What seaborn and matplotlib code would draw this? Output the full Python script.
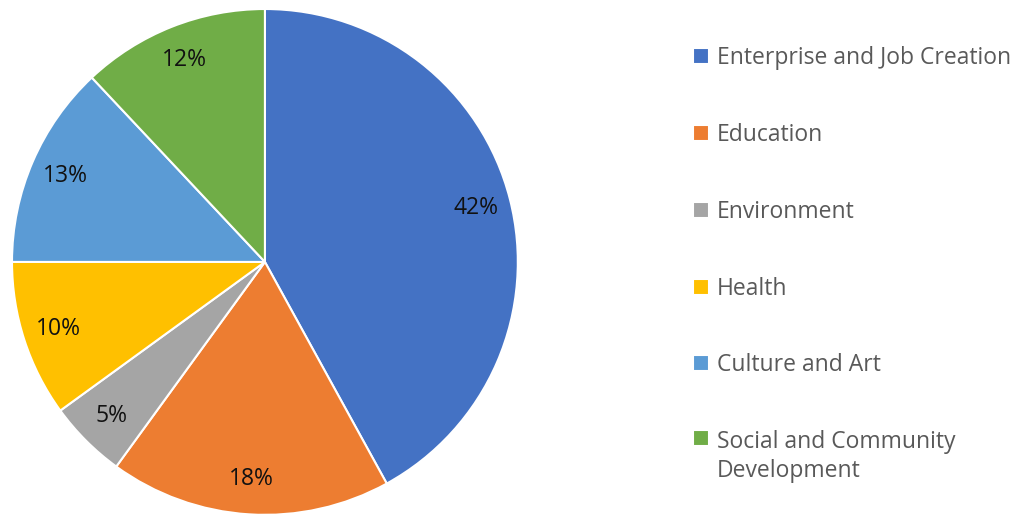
import matplotlib
matplotlib.use('Agg')
import matplotlib.pyplot as plt
import seaborn as sns

categorias = ['Enterprise and Job Creation', 'Education', 'Environment', 'Health',
              'Culture and Art', 'Social and Community\nDevelopment']
percentuais = [42, 18, 5, 10, 13, 12]
cores_hex = ['#4472C4', '#ED7D31', '#A5A5A5', '#FFC000', '#5B9BD5', '#70AD47']

sns.set_theme(style='white')
plt.rcParams['font.family'] = ['Open Sans', 'DejaVu Sans']
paleta = sns.color_palette(cores_hex)

fig = plt.figure(figsize=(10.26, 5.16), dpi=100)
ax = fig.add_axes([0.0117, 0.0019, 0.493, 0.981])

fatias, textos, autotextos = ax.pie(
    percentuais,
    colors=paleta,
    startangle=90,
    counterclock=False,
    autopct='%1.0f%%',
    pctdistance=0.86,
    wedgeprops=dict(edgecolor='white', linewidth=1.5),
    textprops=dict(fontsize=16.5, color='#111111'),
)
ax.set_aspect('equal')
ax.set_xlim(-1, 1)
ax.set_ylim(-1, 1)

leg = fig.legend(
    fatias, categorias,
    loc='upper left',
    bbox_to_anchor=(0.655, 0.95),
    frameon=False,
    fontsize=16.5,
    handlelength=0.7,
    handleheight=0.7,
    handletextpad=0.35,
    labelspacing=2.3,
)
for t in leg.get_texts():
    t.set_color('#595959')
    t.set_linespacing(1.3)

# alinhar o marcador da ultima entrada com a primeira linha do texto
for coluna in leg._legend_handle_box.get_children():
    linhas = coluna.get_children()
    linhas[-1].align = 'top'

plt.savefig('out.png', dpi=100)
plt.close()
